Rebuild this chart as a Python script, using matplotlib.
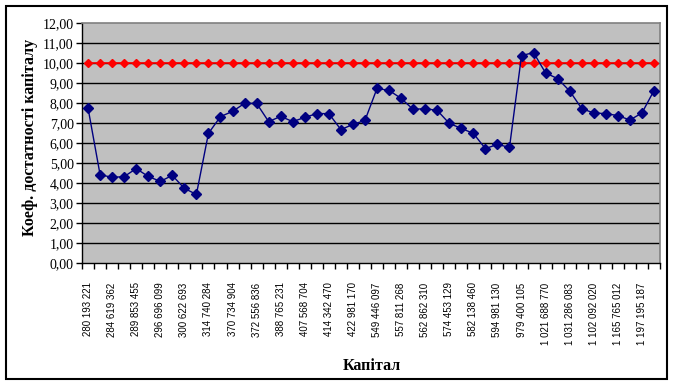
import matplotlib
matplotlib.use("Agg")
import matplotlib.pyplot as plt
from matplotlib.patches import Rectangle

# Data
capital_labels = ["280 193 221", "284 619 362", "289 853 455", "296 696 099", "300 622 693",
                  "314 740 284", "370 734 904", "372 556 836", "388 765 231", "407 568 704",
                  "414 342 470", "422 981 170", "549 446 097", "557 811 268", "562 862 310",
                  "574 453 129", "582 138 460", "594 981 130", "979 400 105", "1 021 688 770",
                  "1 031 286 083", "1 102 092 020", "1 165 765 012", "1 197 195 187"]
ratio = [7.75, 4.42, 4.28, 4.32, 4.72, 4.33, 4.08, 4.38, 3.73, 3.43,
         6.48, 7.32, 7.58, 7.98, 7.98, 7.07, 7.33, 7.07, 7.28, 7.47,
         7.47, 6.67, 6.93, 7.13, 8.73, 8.63, 8.23, 7.68, 7.72, 7.63,
         6.98, 6.73, 6.48, 5.72, 5.93, 5.78, 10.37, 10.52, 9.50, 9.22,
         8.60, 7.72, 7.50, 7.47, 7.37, 7.15, 7.50, 8.62]
norm = [10.0] * len(ratio)
y_ticks = [0, 1, 2, 3, 4, 5, 6, 7, 8, 9, 10, 11, 12]
y_labels = ["0,00", "1,00", "2,00", "3,00", "4,00", "5,00", "6,00",
            "7,00", "8,00", "9,00", "10,00", "11,00", "12,00"]

W, H = 673, 385
fig = plt.figure(figsize=(W / 100, H / 100), dpi=100)
ax = fig.add_axes([82 / W, (H - 263) / H, 578 / W, 240 / H])
ax.set_facecolor("#C0C0C0")

x = list(range(len(ratio)))
ax.plot(x, norm, color="#FF0000", lw=1.2, marker="D", ms=4, zorder=3)
ax.plot(x, ratio, color="#000080", lw=1.0, marker="D", ms=5, zorder=4)

ax.set_xlim(-0.5, len(ratio) - 0.5)
ax.set_ylim(0, 12)

# grid lines at each integer
for v in y_ticks[1:-1]:
    ax.axhline(v, color="black", lw=1.0, zorder=1)

ax.set_yticks(y_ticks)
ax.set_yticklabels(y_labels, family="Liberation Serif", fontsize=10)
ax.tick_params(axis="y", direction="out", length=4, width=1, color="black", pad=2)

# tick marks at category boundaries, labels at every other category
ax.set_xticks([i - 0.5 for i in range(len(ratio) + 1)], minor=True)
ax.set_xticks(x[::2])
ax.set_xticklabels(capital_labels, rotation=90, va="top", ha="center",
                   family="Liberation Sans", fontsize=7)
ax.tick_params(axis="x", which="major", length=0, pad=14)
ax.tick_params(axis="x", which="minor", direction="out", length=4, width=1, color="black")

for side in ["top", "right"]:
    ax.spines[side].set_color("#808080")
    ax.spines[side].set_linewidth(1.2)
for side in ["bottom", "left"]:
    ax.spines[side].set_color("black")
    ax.spines[side].set_linewidth(1.0)

fig.text(30 / W, 1 - 137 / H, "Коеф. достатності капіталу", rotation=90,
         ha="center", va="center", family="Liberation Serif", weight="bold", fontsize=11.5)
fig.text(372 / W, 1 - 366 / H, "Капітал", ha="center", va="center",
         family="Liberation Serif", weight="bold", fontsize=11.5)

# outer chart border
fig.patches.append(Rectangle((5.5 / W, 6 / H), 661 / W, 373.5 / H, transform=fig.transFigure,
                             fill=False, edgecolor="black", lw=1.5))

fig.savefig("out.png", dpi=100)
